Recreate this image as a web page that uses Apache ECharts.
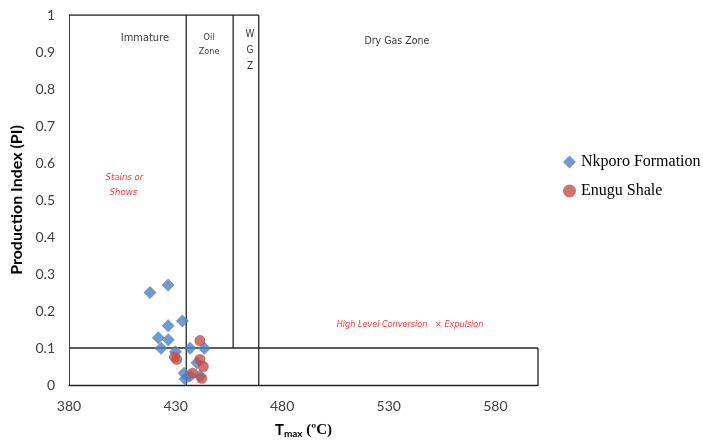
<!DOCTYPE html>
<html>
<head>
<meta charset="utf-8">
<script src="https://cdn.jsdelivr.net/npm/echarts@6/dist/echarts.min.js"></script>
<style>html,body{margin:0;padding:0;background:#fff}#c{width:703px;height:441px}</style>
</head>
<body>
<div id="c"></div>
<script>
// Data
const nkporo = [
  [418, 0.25], [426.5, 0.27], [433.2, 0.173], [426.5, 0.16], [421.9, 0.128],
  [426.6, 0.122], [423.2, 0.099], [430, 0.09], [436.8, 0.099], [443.5, 0.099],
  [434, 0.032], [434.4, 0.016], [436.8, 0.024], [440, 0.06], [441.4, 0.024]
];
const enugu = [
  [441.4, 0.12], [430.5, 0.069], [429.5, 0.076], [441.4, 0.069], [443, 0.05],
  [438, 0.032], [442.2, 0.018]
];
const xTicks = [380, 430, 480, 530, 580];
const yTicks = [0, 0.1, 0.2, 0.3, 0.4, 0.5, 0.6, 0.7, 0.8, 0.9, 1];
// Zone boundary lines
const boundaryLines = [
  [[435, 0], [435, 1]],
  [[457, 0.1], [457, 1]],
  [[469, 0], [469, 1]],
  [[380, 0.1], [600, 0.1]],
  [[600, 0], [600, 0.1]],
  [[380, 1], [469, 1]]
];
// Zone labels [x, y, text, size]
const zoneLabels = [
  [415.6, 0.938, 'Immature', 11],
  [445.7, 0.94, 'Oil', 9],
  [445.7, 0.902, 'Zone', 9],
  [464.9, 0.948, 'W', 10],
  [464.9, 0.905, 'G', 10],
  [464.9, 0.862, 'Z', 10],
  [533.8, 0.93, 'Dry Gas Zone', 10.5]
];
const redLabels = [
  [406, 0.562, 'Stains or', 9.5],
  [405.5, 0.519, 'Shows', 9.5],
  [540, 0.162, 'High Level Conversion   × Expulsion', 9]
];

const chart = echarts.init(document.getElementById('c'));
const lineSeries = boundaryLines.map(seg => ({
  type: 'line', data: seg, symbol: 'none', silent: true, z: 1,
  lineStyle: { color: '#262626', width: 1.3 }, legendHoverLink: false
}));
const condensed = "'DejaVu Sans Condensed', 'Liberation Sans Narrow', sans-serif";
function textSeries(arr, color, italic) {
  return {
    type: 'scatter', symbolSize: 0, silent: true, z: 5,
    data: arr.map(d => ({ value: [d[0], d[1]], label: { fontSize: d[3], formatter: d[2] } })),
    label: { show: true, position: 'inside', color: color, fontFamily: condensed,
      fontStyle: italic ? 'italic' : 'normal' }
  };
}
chart.setOption({
  animation: false,
  grid: { left: 69, right: 165, top: 15, bottom: 56, containLabel: false, outerBoundsMode: 'none' },
  legend: {
    orient: 'vertical', left: 558, top: 149, itemGap: 13,
    itemWidth: 13, itemHeight: 13,
    data: [{ name: 'Nkporo Formation', icon: 'diamond' }, { name: 'Enugu Shale', icon: 'circle' }],
    textStyle: { fontFamily: "'Liberation Serif', serif", fontSize: 16, color: '#000' }
  },
  xAxis: {
    type: 'value', min: 380, max: 600, interval: 50,
    axisLine: { show: true, lineStyle: { color: '#262626', width: 1.3 } },
    axisTick: { show: false }, splitLine: { show: false },
    axisLabel: { showMaxLabel: false, fontFamily: 'Lato', fontSize: 14, color: '#404040', margin: 14,
      formatter: v => xTicks.includes(v) ? String(v) : '' },
    name: '{t|T}{s|max}{c| (ºC)}', nameLocation: 'middle', nameGap: 36,
    nameTextStyle: {
      rich: {
        t: { fontFamily: 'Lato', fontWeight: 'bold', fontSize: 15, color: '#000' },
        s: { fontFamily: 'Lato', fontWeight: 'bold', fontSize: 10, color: '#000', padding: [8, 0, 0, 0] },
        c: { fontFamily: "'Liberation Serif', serif", fontWeight: 'bold', fontSize: 15, color: '#000' }
      }
    }
  },
  yAxis: {
    type: 'value', min: 0, max: 1, interval: 0.1,
    axisLine: { show: true, lineStyle: { color: '#404040', width: 1 } },
    axisTick: { show: false }, splitLine: { show: false },
    axisLabel: { fontFamily: 'Lato', fontSize: 14, color: '#404040', margin: 14,
      formatter: v => { const t = yTicks.find(k => Math.abs(k - v) < 1e-9); return t === undefined ? '' : String(t); } },
    name: 'Production Index (PI)', nameLocation: 'middle', nameGap: 40,
    nameTextStyle: { fontFamily: 'Lato', fontWeight: 'bold', fontSize: 16, color: '#000' }
  },
  series: [
    ...lineSeries,
    { name: 'Nkporo Formation', type: 'scatter', symbol: 'diamond', symbolSize: 13, z: 3,
      itemStyle: { color: '#4F81BD' }, data: nkporo },
    { name: 'Enugu Shale', type: 'scatter', symbol: 'circle', symbolSize: 11, z: 4,
      itemStyle: { color: '#C0504D' }, data: enugu },
    textSeries(zoneLabels, '#000', false),
    textSeries(redLabels, '#FF0000', true)
  ]
});
</script>
</body>
</html>
